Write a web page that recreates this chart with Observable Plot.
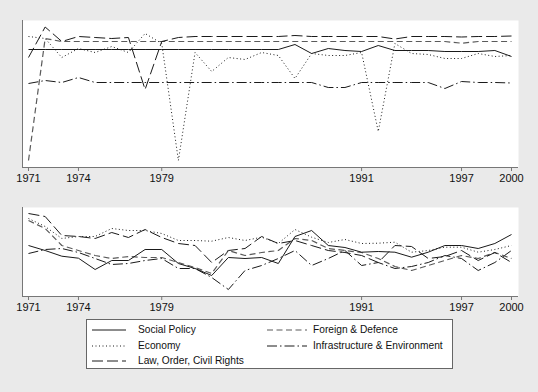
<!DOCTYPE html>
<html>
<head>
<meta charset="utf-8">
<script src="https://cdn.jsdelivr.net/npm/d3@7"></script>
<script src="https://cdn.jsdelivr.net/npm/@observablehq/plot@0.6"></script>
<style>
  html, body { margin: 0; padding: 0; background: #eaeaea; }
  #wrap { position: relative; width: 538px; height: 392px; background: #eaeaea; font-family: "Liberation Sans", Arial, sans-serif; }
  #top, #bottom { position: absolute; left: 0; }
  #top { top: 0; }
  #bottom { top: 192px; }
  #legend { position: absolute; left: 86px; top: 319px; width: 365px; height: 48px; background: #fff; border: 1px solid #666; }
  .item { position: absolute; font-size: 10.2px; color: #111; line-height: 12px; }
  .item svg { position: absolute; top: 1px; }
</style>
</head>
<body>
<div id="wrap">
  <div id="top"></div>
  <div id="bottom"></div>
  <div id="legend"></div>
</div>
<script>
// Years and tick labels
const years = d3.range(1971, 2001);
const tickYears = [1971, 1974, 1979, 1991, 1997, 2000];

const seriesNames = ["Social Policy", "Economy", "Law, Order, Civil Rights", "Foreign & Defence", "Infrastructure & Environment"];

// Top panel (index, no y axis shown)
const topSocial   = [118,118,118,118,118,118,118,118,118,118,118,118,118,118,118,118,123,114,119,117,116,122,117,117,117,116,116,116,117,111];
const topEconomy  = [131,129,110,119,115,121,115,134,124,7,115,96,110,108,115,112,89,114,112,112,115,36,124,114,113,109,109,114,111,112];
const topLaw      = [110,140.5,126,131,130,129,130,78,126,130,131,131,131,131,131,131,132,131,131,131,131,131,128.5,131,131,131,130.5,131,131,131.5];
const topForeign  = [7,129,126,126,126,126,126,126,126,126,126,126,126,126,126,126,126,126,126,126,126,126,126,126,126,126,124.3,126,126,126];
const topInfra    = [84,87,85,90,85,85,85,85,85,85,85,85,85,85,85,85,85,85,80,80,85,85,85,85,85,79,86,85,85,84.5];

// Bottom panel
const botSocial   = [51,46,40.3,38.3,27,36,36,47,47,33,28,21,39,38,39,33,60,66,51,49,44.3,45,44.3,39.3,44.3,51,51,48,53,62];
const botEconomy  = [78,70,58,60,60,68,66,66,63,56,56,55.3,59,56,59.3,53,67,59.3,54,57,53,53.3,54.3,44.3,46,49.3,49.3,44.3,47,51];
const botLaw      = [83,80,61,60,58,64,59,67,59,53,51,34,46,48,60,53,56,51,46,44,41,34,51,50,38,40,46,36,44,34];
const botForeign  = [76,68,51,46,41,38,40,39,39,34,29,23,46,41,44,46,58,56,48,46,44,38,30,26,31,36,41,38,44,38];
const botInfra    = [43,47,48,44,38,32,33,36,38,28,28,19,7,26,31,38,46,31,38,46,31,34,28,30,34,41,38,26,34,46];

const styles = {
  "Social Policy": {stroke: "#1a1a1a", dash: null, w: 1},
  "Economy": {stroke: "#1a1a1a", dash: "1,2.5", w: 1},
  "Law, Order, Civil Rights": {stroke: "#1a1a1a", dash: "11,4", w: 1},
  "Foreign & Defence": {stroke: "#5a5a5a", dash: "6,3.5", w: 1.2},
  "Infrastructure & Environment": {stroke: "#1a1a1a", dash: "10,3,1.5,3", w: 1}
};

function toRows(arrs) {
  const rows = [];
  seriesNames.forEach((name, i) => {
    arrs[i].forEach((v, j) => rows.push({series: name, year: years[j], value: v}));
  });
  return rows;
}

const topRows = toRows([topSocial, topEconomy, topLaw, topForeign, topInfra]);
const botRows = toRows([botSocial, botEconomy, botLaw, botForeign, botInfra]);

const xDomain = [1971 - 6 / 16.66, 2000 + 7 / 16.66];

function panel(rows, yDomain, height, marginTop, marginBottom) {
  const marks = [
    Plot.frame({fill: "white", stroke: null}),
  ];
  [...seriesNames].reverse().forEach(name => {
    const s = styles[name];
    marks.push(Plot.line(rows.filter(d => d.series === name), {
      x: "year", y: "value", stroke: s.stroke, strokeWidth: s.w,
      strokeDasharray: s.dash, strokeLinejoin: "miter", strokeLinecap: "butt"
    }));
  });
  marks.push(Plot.ruleX([xDomain[0]], {stroke: "#777", strokeWidth: 1}));
  marks.push(Plot.ruleY([yDomain[0]], {stroke: "#777", strokeWidth: 1}));
  marks.push(Plot.axisX({ticks: tickYears, tickFormat: d => String(d), tickSize: 4, tickPadding: 3, stroke: "#777", fill: "#111", fontSize: 11, label: null}));
  return Plot.plot({
    width: 538, height, marginLeft: 22, marginRight: 20, marginTop, marginBottom,
    style: {background: "transparent", fontFamily: "'Liberation Sans', Arial, sans-serif", fontSize: "11px", color: "#111"},
    x: {domain: xDomain, label: null},
    y: {domain: yDomain, axis: null},
    marks
  });
}

document.getElementById("top").appendChild(panel(topRows, [0, 147], 192, 20, 25));
document.getElementById("bottom").appendChild(panel(botRows, [0, 89], 124, 15, 20));

// Legend
const legend = document.getElementById("legend");
const legendItems = [
  {name: "Social Policy", col: 0, row: 0},
  {name: "Foreign & Defence", col: 1, row: 0},
  {name: "Economy", col: 0, row: 1},
  {name: "Infrastructure & Environment", col: 1, row: 1},
  {name: "Law, Order, Civil Rights", col: 0, row: 2}
];
legendItems.forEach(it => {
  const s = styles[it.name];
  const div = document.createElement("div");
  div.className = "item";
  const left = it.col === 0 ? 5 : 180;
  const top = 4 + it.row * 15.7;
  div.style.left = left + "px";
  div.style.top = top + "px";
  div.style.width = "180px";
  div.style.height = "14px";
  const svgNS = "http://www.w3.org/2000/svg";
  const svg = document.createElementNS(svgNS, "svg");
  svg.setAttribute("width", it.col === 0 ? 35 : 41);
  svg.setAttribute("height", 10);
  svg.style.left = "0px";
  const line = document.createElementNS(svgNS, "line");
  line.setAttribute("x1", 0); line.setAttribute("x2", it.col === 0 ? 34 : 40);
  line.setAttribute("y1", 5); line.setAttribute("y2", 5);
  line.setAttribute("stroke", s.stroke);
  line.setAttribute("stroke-width", s.w);
  if (s.dash) line.setAttribute("stroke-dasharray", s.dash);
  svg.appendChild(line);
  div.appendChild(svg);
  const span = document.createElement("span");
  span.textContent = it.name;
  span.style.position = "absolute";
  span.style.left = "46px";
  span.style.top = "0px";
  span.style.whiteSpace = "nowrap";
  div.appendChild(span);
  legend.appendChild(div);
});
</script>
</body>
</html>
